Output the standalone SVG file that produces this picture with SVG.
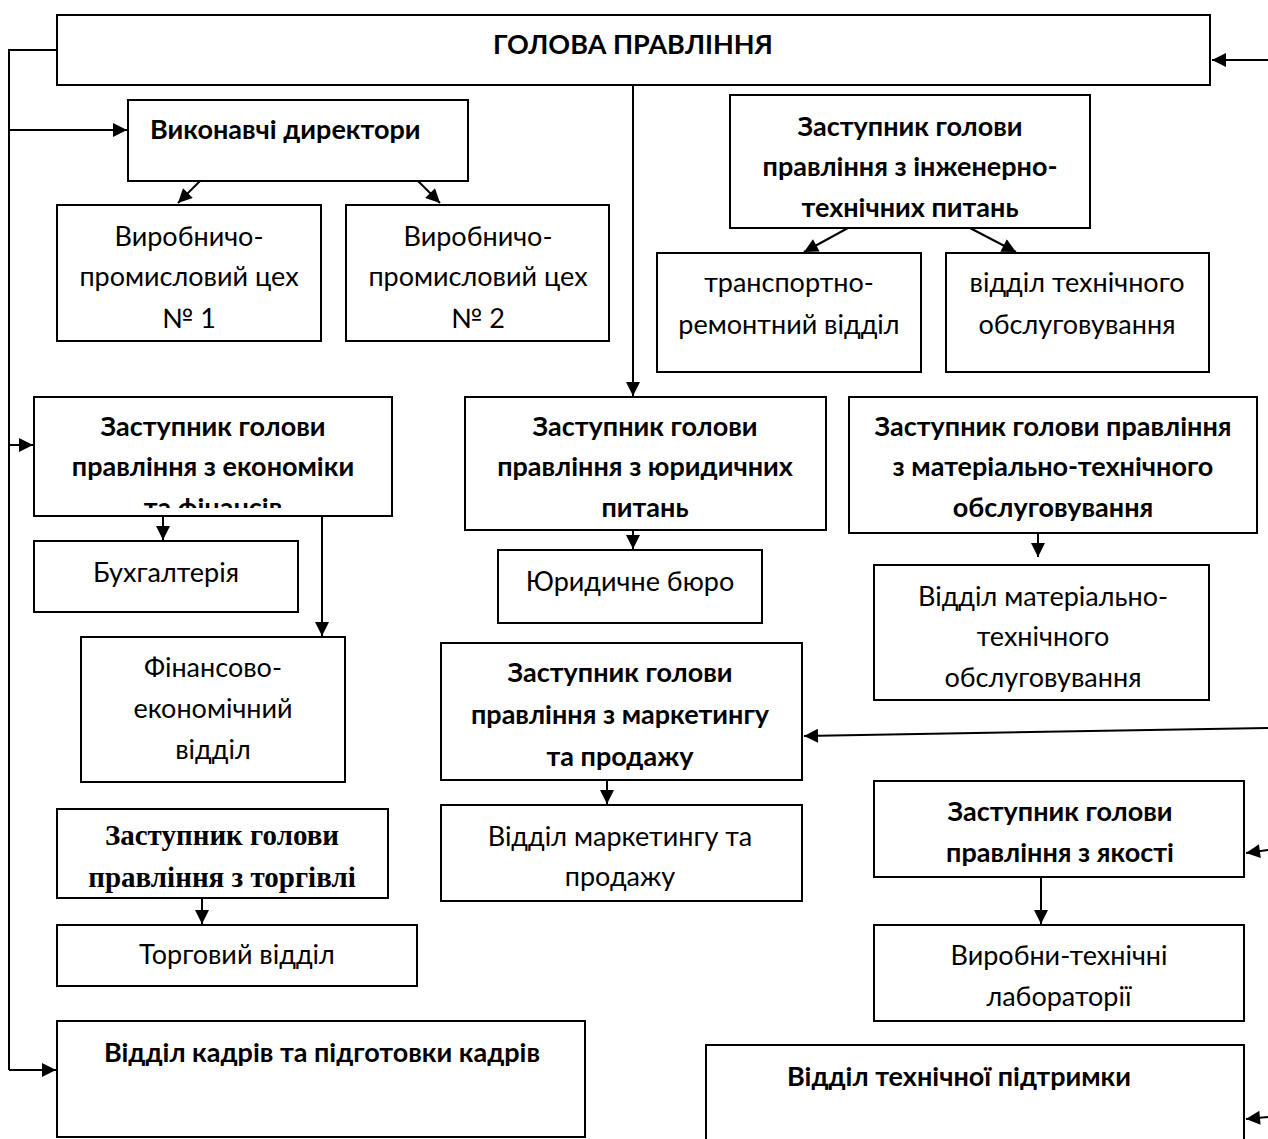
<svg xmlns="http://www.w3.org/2000/svg" width="1268" height="1139" viewBox="0 0 1268 1139">
<style>
.b{fill:#fff;stroke:#000;stroke-width:2}
.t{font-family:Lato,"Open Sans","Liberation Sans",sans-serif;font-size:27px;fill:#000;text-anchor:middle}
.bd{font-weight:bold}
.tm{font-family:"Liberation Serif",serif;font-size:29px;font-weight:bold;fill:#000;text-anchor:middle}
.c{fill:none;stroke:#000;stroke-width:2}
</style>
<defs>
<marker id="a" viewBox="0 0 10 10" refX="10" refY="5" markerWidth="7.5" markerHeight="7" orient="auto" markerUnits="strokeWidth"><path d="M0,0L10,5L0,10z" fill="#000"/></marker>
<clipPath id="ce"><rect x="34" y="397" width="358" height="111"/></clipPath>
</defs>
<rect width="1268" height="1139" fill="#fff"/>
<g id="n-head"><rect class="b" x="57" y="15" width="1153" height="70"/><text class="t bd" x="633" y="54">ГОЛОВА ПРАВЛІННЯ</text></g>
<g id="n-exec"><rect class="b" x="128" y="100" width="340" height="81"/><text class="t bd" x="150" y="139" style="text-anchor:start">Виконавчі директори</text></g>
<g id="n-shop1"><rect class="b" x="57" y="205" width="264" height="136"/><text class="t" x="189" y="246">Виробничо-</text><text class="t" x="189" y="286">промисловий цех</text><text class="t" x="189" y="328">№ 1</text></g>
<g id="n-shop2"><rect class="b" x="346" y="205" width="263" height="136"/><text class="t" x="478" y="246">Виробничо-</text><text class="t" x="478" y="286">промисловий цех</text><text class="t" x="478" y="328">№ 2</text></g>
<g id="n-eng"><rect class="b" x="730" y="95" width="360" height="133"/><text class="t bd" x="910" y="136">Заступник голови</text><text class="t bd" x="910" y="176">правління з інженерно-</text><text class="t bd" x="910" y="217">технічних питань</text></g>
<g id="n-transport"><rect class="b" x="657" y="253" width="264" height="119"/><text class="t" x="789" y="292">транспортно-</text><text class="t" x="789" y="334">ремонтний відділ</text></g>
<g id="n-tech"><rect class="b" x="946" y="253" width="263" height="119"/><text class="t" x="1077" y="292">відділ технічного</text><text class="t" x="1077" y="334">обслуговування</text></g>
<g id="n-econ"><rect class="b" x="34" y="397" width="358" height="119"/><g clip-path="url(#ce)"><text class="t bd" x="213" y="436">Заступник голови</text><text class="t bd" x="213" y="476">правління з економіки</text><text class="t bd" x="213" y="517">та фінансів</text></g></g>
<g id="n-acc"><rect class="b" x="34" y="541" width="264" height="71"/><text class="t" x="166" y="582">Бухгалтерія</text></g>
<g id="n-fin"><rect class="b" x="81" y="637" width="264" height="145"/><text class="t" x="213" y="677">Фінансово-</text><text class="t" x="213" y="718">економічний</text><text class="t" x="213" y="759">відділ</text></g>
<g id="n-law"><rect class="b" x="465" y="397" width="361" height="133"/><text class="t bd" x="645" y="436">Заступник голови</text><text class="t bd" x="645" y="476">правління з юридичних</text><text class="t bd" x="645" y="517">питань</text></g>
<g id="n-bureau"><rect class="b" x="498" y="550" width="264" height="73"/><text class="t" x="630" y="591">Юридичне бюро</text></g>
<g id="n-mat"><rect class="b" x="849" y="397" width="408" height="136"/><text class="t bd" x="1053" y="436">Заступник голови правління</text><text class="t bd" x="1053" y="476">з матеріально-технічного</text><text class="t bd" x="1053" y="517">обслуговування</text></g>
<g id="n-matdep"><rect class="b" x="874" y="565" width="335" height="135"/><text class="t" x="1043" y="606">Відділ матеріально-</text><text class="t" x="1043" y="646">технічного</text><text class="t" x="1043" y="687">обслуговування</text></g>
<g id="n-mkt"><rect class="b" x="441" y="643" width="361" height="137"/><text class="t bd" x="620" y="682">Заступник голови</text><text class="t bd" x="620" y="724">правління з маркетингу</text><text class="t bd" x="620" y="766">та продажу</text></g>
<g id="n-mktdep"><rect class="b" x="441" y="805" width="361" height="96"/><text class="t" x="620" y="846">Відділ маркетингу та</text><text class="t" x="620" y="886">продажу</text></g>
<g id="n-trade"><rect class="b" x="57" y="809" width="331" height="89"/><text class="tm" x="222" y="845">Заступник голови</text><text class="tm" x="222" y="887">правління з торгівлі</text></g>
<g id="n-tradedep"><rect class="b" x="57" y="925" width="360" height="61"/><text class="t" x="237" y="964">Торговий відділ</text></g>
<g id="n-hr"><rect class="b" x="57" y="1021" width="528" height="116"/><text class="t bd" x="322" y="1062">Відділ кадрів та підготовки кадрів</text></g>
<g id="n-qual"><rect class="b" x="874" y="781" width="370" height="96"/><text class="t bd" x="1060" y="821">Заступник голови</text><text class="t bd" x="1060" y="862">правління з якості</text></g>
<g id="n-lab"><rect class="b" x="874" y="925" width="370" height="96"/><text class="t" x="1059" y="965">Виробни-технічні</text><text class="t" x="1059" y="1006">лабораторії</text></g>
<g id="n-support"><rect class="b" x="706" y="1045" width="538" height="110"/><text class="t bd" x="959" y="1086">Відділ технічної підтримки</text></g>
<g id="connectors">
<path class="c" d="M57,50H9V1070"/>
<path class="c" d="M9,130H127" marker-end="url(#a)"/>
<path class="c" d="M9,445H33" marker-end="url(#a)"/>
<path class="c" d="M9,1070H56" marker-end="url(#a)"/>
<path class="c" d="M200,181L178,203" marker-end="url(#a)"/>
<path class="c" d="M418,181L440,203" marker-end="url(#a)"/>
<path class="c" d="M633,85V396" marker-end="url(#a)"/>
<path class="c" d="M848,228L804,252" marker-end="url(#a)"/>
<path class="c" d="M970,228L1016,252" marker-end="url(#a)"/>
<path class="c" d="M1268,60H1212" marker-end="url(#a)"/>
<path class="c" d="M163,516V540" marker-end="url(#a)"/>
<path class="c" d="M322,516V636" marker-end="url(#a)"/>
<path class="c" d="M633,530V549" marker-end="url(#a)"/>
<path class="c" d="M1038,533V557" marker-end="url(#a)"/>
<path class="c" d="M1268,728L804,736" marker-end="url(#a)"/>
<path class="c" d="M607,780V804" marker-end="url(#a)"/>
<path class="c" d="M202,898V924" marker-end="url(#a)"/>
<path class="c" d="M1268,850L1246,853" marker-end="url(#a)"/>
<path class="c" d="M1041,877V924" marker-end="url(#a)"/>
<path class="c" d="M1268,1117L1246,1119" marker-end="url(#a)"/>
</g>
</svg>
